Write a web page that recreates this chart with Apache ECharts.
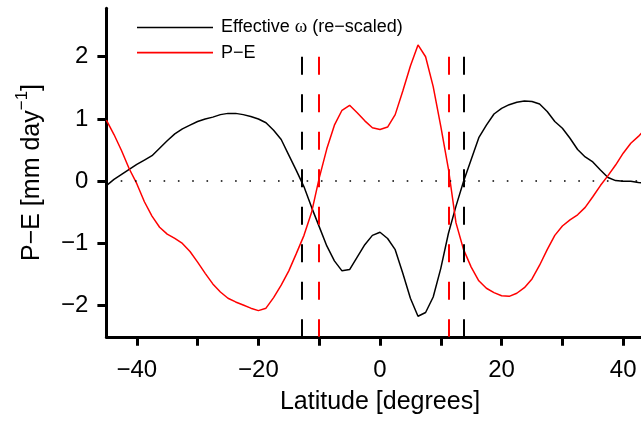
<!DOCTYPE html>
<html>
<head>
<meta charset="utf-8">
<title>P−E and effective omega</title>
<script src="https://cdn.jsdelivr.net/npm/echarts@6/dist/echarts.min.js"></script>
<style>
  html, body { margin: 0; padding: 0; background: #fff; }
  #chart { width: 641px; height: 421px; }
</style>
</head>
<body>
<div id="chart"></div>
<script>
// Latitude grid (degrees)
const latitudes = [
  -45, -43.75, -42.5, -41.25, -40, -38.75, -37.5, -36.25, -35, -33.75,
  -32.5, -31.25, -30, -28.75, -27.5, -26.25, -25, -23.75, -22.5, -21.25,
  -20, -18.75, -17.5, -16.25, -15, -13.75, -12.5, -11.25, -10, -8.75,
  -7.5, -6.25, -5, -3.75, -2.5, -1.25, 0, 1.25, 2.5, 3.75,
  5, 6.25, 7.5, 8.75, 10, 11.25, 12.5, 13.75, 15, 16.25,
  17.5, 18.75, 20, 21.25, 22.5, 23.75, 25, 26.25, 27.5, 28.75,
  30, 31.25, 32.5, 33.75, 35, 36.25, 37.5, 38.75, 40, 41.25,
  42.5, 43.75, 45
];

// Effective omega, re-scaled to P−E units
const omegaScaled = [
  -0.07, 0.03, 0.11, 0.19, 0.27, 0.34, 0.41, 0.53, 0.65, 0.76,
  0.84, 0.90, 0.96, 1.00, 1.03, 1.07, 1.09, 1.09, 1.07, 1.04,
  1.00, 0.94, 0.82, 0.67, 0.42, 0.17, -0.09, -0.42, -0.73, -1.04,
  -1.28, -1.44, -1.42, -1.22, -1.02, -0.87, -0.82, -0.92, -1.10, -1.48,
  -1.88, -2.17, -2.11, -1.86, -1.40, -0.84, -0.40, 0.00, 0.35, 0.70,
  0.90, 1.08, 1.17, 1.23, 1.27, 1.29, 1.28, 1.24, 1.12, 0.96,
  0.85, 0.69, 0.51, 0.39, 0.31, 0.18, 0.06, 0.01, 0.00, 0.00,
  -0.02, -0.03, -0.03
];

// Precipitation minus evaporation [mm/day]
const pMinusE = [
  0.98, 0.75, 0.49, 0.20, -0.04, -0.33, -0.56, -0.74, -0.85, -0.92,
  -1.00, -1.13, -1.30, -1.48, -1.65, -1.78, -1.88, -1.94, -1.99, -2.04,
  -2.08, -2.04, -1.87, -1.67, -1.44, -1.16, -0.87, -0.50, 0.05, 0.52,
  0.90, 1.14, 1.22, 1.10, 0.97, 0.86, 0.83, 0.87, 1.07, 1.45,
  1.85, 2.19, 2.00, 1.52, 0.88, 0.20, -0.67, -1.10, -1.38, -1.60,
  -1.72, -1.79, -1.84, -1.85, -1.80, -1.71, -1.57, -1.35, -1.10, -0.87,
  -0.72, -0.62, -0.54, -0.42, -0.25, -0.07, 0.09, 0.26, 0.45, 0.61,
  0.72, 0.85, 0.95
];

// Zero crossings marking the edges of the convergence zone
const omegaEdges = [-12.84, 13.8];
const pmeEdges = [-10.1, 11.35];

const xTicks = [-40, -30, -20, -10, 0, 10, 20, 30, 40];
const xTickLabels = [-40, -20, 0, 20, 40];
const yTicks = [-2, -1, 0, 1, 2];

const FONT = 'Liberation Sans, Arial, Helvetica, sans-serif';
const minus = v => (v < 0 ? '\u2212' + Math.abs(v) : String(v));

const nameOmega = 'Effective \u03c9 (re\u2212scaled)';
const namePme = 'P\u2212E';

function vLines(xs) {
  return xs.map(x => [{ coord: [x, 2] }, { coord: [x, -2.5] }]);
}

const chart = echarts.init(document.getElementById('chart'), null, { renderer: 'canvas' });

chart.setOption({
  animation: false,
  backgroundColor: '#ffffff',
  // the panel runs to 45°N; the page edge cuts it just past 43°N
  grid: { left: 106.4, top: 8.2, width: 547.2, bottom: 84.2, outerBoundsMode: 'none', containLabel: false },
  legend: {
    orient: 'vertical',
    left: 137,
    top: 18,
    padding: 0,
    icon: 'rect',
    itemWidth: 76,
    itemHeight: 1.6,
    itemGap: 6.6,
    selectedMode: false,
    data: [nameOmega, namePme],
    formatter: n => n.replace('\u03c9', '{w|\u03c9}'),
    textStyle: {
      fontFamily: FONT,
      fontSize: 18,
      color: '#000',
      padding: [0, 0, 0, 3],
      rich: {
        w: { fontFamily: 'Liberation Serif, Times New Roman, serif', fontSize: 19, color: '#000' }
      }
    }
  },
  xAxis: {
    type: 'value',
    min: -45,
    max: 45,
    name: 'Latitude [degrees]',
    nameLocation: 'middle',
    nameGap: 53,
    nameTextStyle: { fontFamily: FONT, fontSize: 25, color: '#000' },
    axisLine: { show: true, onZero: false, lineStyle: { color: '#000', width: 3 } },
    axisTick: { show: true, length: 9, customValues: xTicks, lineStyle: { color: '#000', width: 3 } },
    axisLabel: {
      customValues: xTickLabels,
      formatter: minus,
      margin: 22,
      fontFamily: FONT,
      fontSize: 24,
      color: '#000'
    },
    splitLine: { show: false }
  },
  yAxis: {
    type: 'value',
    min: -2.5,
    max: 2.78,
    name: '{a|P\u2212E [mm day}{s|\u22121}{a|]}',
    nameLocation: 'middle',
    nameGap: 55,
    nameRotate: 90,
    nameTextStyle: {
      fontFamily: FONT,
      color: '#000',
      rich: {
        a: { fontFamily: FONT, fontSize: 25, lineHeight: 38, color: '#000' },
        s: { fontFamily: FONT, fontSize: 17, verticalAlign: 'top', color: '#000' }
      }
    },
    axisLine: { show: true, onZero: false, lineStyle: { color: '#000', width: 3 } },
    axisTick: { show: true, length: 9, customValues: yTicks, lineStyle: { color: '#000', width: 3 } },
    axisLabel: {
      customValues: yTicks,
      formatter: minus,
      margin: 18,
      fontFamily: FONT,
      fontSize: 24,
      color: '#000'
    },
    splitLine: { show: false }
  },
  series: [
    {
      name: nameOmega,
      type: 'line',
      color: '#000000',
      symbol: 'none',
      smooth: false,
      data: latitudes.map((x, i) => [x, omegaScaled[i]]),
      lineStyle: { color: '#000000', width: 1.5 },
      markLine: {
        silent: true,
        symbol: ['none', 'none'],
        label: { show: false },
        animation: false,
        data: [
          ...vLines(omegaEdges).map(d => [
            { ...d[0], lineStyle: { color: '#000', width: 2, type: [18, 19.5] } },
            d[1]
          ]),
          [
            { coord: [-45, 0], lineStyle: { color: '#000', width: 1.6, type: [1.6, 12.7] } },
            { coord: [45, 0] }
          ]
        ]
      }
    },
    {
      name: namePme,
      type: 'line',
      color: '#ff0000',
      symbol: 'none',
      smooth: false,
      data: latitudes.map((x, i) => [x, pMinusE[i]]),
      lineStyle: { color: '#ff0000', width: 1.5 },
      markLine: {
        silent: true,
        symbol: ['none', 'none'],
        label: { show: false },
        animation: false,
        lineStyle: { color: '#ff0000', width: 2, type: [18, 19.5] },
        data: vLines(pmeEdges)
      }
    }
  ]
});
</script>
</body>
</html>
